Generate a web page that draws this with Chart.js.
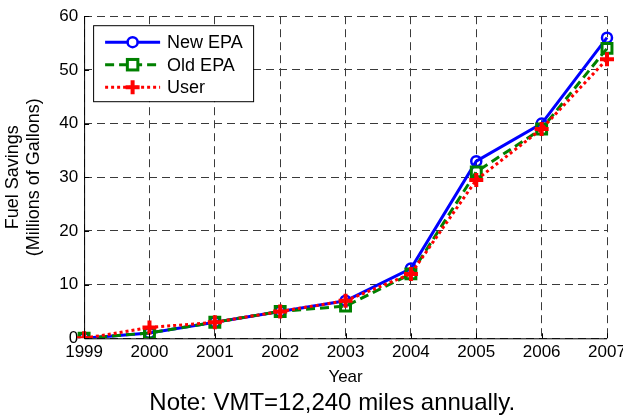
<!DOCTYPE html>
<html>
<head>
<meta charset="utf-8">
<script src="https://cdn.jsdelivr.net/npm/chart.js@4/dist/chart.umd.min.js"></script>
<style>
  html, body { margin: 0; padding: 0; background: #fff; }
  #wrap { width: 623px; height: 417px; }
</style>
</head>
<body>
<div id="wrap"><canvas id="c" width="623" height="417"></canvas></div>
<script>
const years = ['1999', '2000', '2001', '2002', '2003', '2004', '2005', '2006', '2007'];
const newEPA = [0, 1, 3, 5, 7, 13, 33, 40, 56];
const oldEPA = [0, 1, 3, 5, 6, 12, 31, 39, 54];
const userVals = [0, 2, 3, 5, 7, 12, 29.5, 39, 52];
const seriesNames = ['New EPA', 'Old EPA', 'User'];

const FONT = 'Liberation Sans, Arial, sans-serif';

// Solid left/bottom axes with inward ticks, plus a boxed legend with line + marker samples
const framePlugin = {
  id: 'frame',
  afterDatasetsDraw(chart) {
    const { ctx, chartArea: a, scales } = chart;
    ctx.save();
    ctx.strokeStyle = '#000';
    ctx.lineWidth = 1;
    ctx.setLineDash([]);
    ctx.beginPath();
    ctx.moveTo(a.left + 0.5, a.top);
    ctx.lineTo(a.left + 0.5, a.bottom + 0.5);
    ctx.lineTo(a.right, a.bottom + 0.5);
    scales.x.ticks.forEach((t, i) => {
      const x = Math.round(scales.x.getPixelForTick(i)) + 0.5;
      ctx.moveTo(x, a.bottom); ctx.lineTo(x, a.bottom - 5);
    });
    scales.y.ticks.forEach(t => {
      const y = Math.round(scales.y.getPixelForValue(t.value)) + 0.5;
      ctx.moveTo(a.left, y); ctx.lineTo(a.left + 5, y);
    });
    ctx.stroke();
    ctx.restore();
  },
  afterDraw(chart) {
    const { ctx, chartArea: a } = chart;
    const bx = a.left + 9, by = a.top + 9, bw = 160, bh = 76;
    ctx.save();
    ctx.fillStyle = '#fff';
    ctx.fillRect(bx, by, bw, bh);
    ctx.strokeStyle = '#000';
    ctx.lineWidth = 1;
    ctx.strokeRect(bx + 0.5, by + 0.5, bw, bh);
    [0, 1, 2].forEach((di, i) => {
      const ds = chart.data.datasets[di];
      const y = by + 17 + i * 22.5;
      const x0 = bx + 12, x1 = bx + 67, xm = (x0 + x1) / 2;
      ctx.strokeStyle = ds.borderColor;
      ctx.lineWidth = ds.borderWidth;
      ctx.setLineDash(ds.borderDash || []);
      ctx.beginPath(); ctx.moveTo(x0, y); ctx.lineTo(x1, y); ctx.stroke();
      ctx.setLineDash([]);
      ctx.lineWidth = ds.pointBorderWidth;
      ctx.strokeStyle = ds.pointBorderColor;
      if (ds.pointStyle === 'circle') {
        ctx.fillStyle = '#fff';
        ctx.beginPath(); ctx.arc(xm, y, ds.pointRadius, 0, Math.PI * 2); ctx.fill(); ctx.stroke();
      } else if (ds.pointStyle === 'rect') {
        const r = ds.pointRadius * 0.75;
        ctx.fillStyle = '#fff';
        ctx.fillRect(xm - r, y - r, 2 * r, 2 * r);
        ctx.strokeRect(xm - r, y - r, 2 * r, 2 * r);
      } else {
        const r = ds.pointRadius;
        ctx.beginPath();
        ctx.moveTo(xm - r, y); ctx.lineTo(xm + r, y);
        ctx.moveTo(xm, y - r); ctx.lineTo(xm, y + r);
        ctx.stroke();
      }
      ctx.fillStyle = '#000';
      ctx.font = '18px ' + FONT;
      ctx.textBaseline = 'middle';
      ctx.textAlign = 'left';
      ctx.fillText(seriesNames[di], bx + 74, y + 1);
    });
    ctx.restore();
  }
};

new Chart(document.getElementById('c'), {
  type: 'line',
  data: {
    labels: years,
    datasets: [
      {
        label: seriesNames[0], data: newEPA, order: 2,
        borderColor: '#0000ff', borderWidth: 3,
        pointStyle: 'circle', pointRadius: 5, pointBorderWidth: 2.5,
        pointBorderColor: '#0000ff', pointBackgroundColor: 'rgba(0,0,0,0)'
      },
      {
        label: seriesNames[1], data: oldEPA, order: 1,
        borderColor: '#008000', borderWidth: 3, borderDash: [9, 5],
        pointStyle: 'rect', pointRadius: 7, pointBorderWidth: 3,
        pointBorderColor: '#008000', pointBackgroundColor: 'rgba(0,0,0,0)'
      },
      {
        label: seriesNames[2], data: userVals, order: 0,
        borderColor: '#ff0000', borderWidth: 3, borderDash: [3, 3],
        pointStyle: 'cross', pointRadius: 7, pointBorderWidth: 4,
        pointBorderColor: '#ff0000', pointBackgroundColor: '#ff0000'
      }
    ]
  },
  options: {
    responsive: false,
    animation: false,
    layout: { padding: { left: 2, right: 16, top: 8, bottom: 0 } },
    plugins: {
      legend: { display: false },
      tooltip: { enabled: false },
      title: {
        display: true, position: 'bottom', fullSize: false,
        text: 'Note: VMT=12,240 miles annually.    ',
        color: '#000', font: { family: FONT, size: 24, weight: 'normal', lineHeight: 1.15 },
        padding: { top: 2, bottom: 0 }
      }
    },
    scales: {
      x: {
        type: 'category', offset: false,
        afterFit(scale) { scale.paddingRight = 0; },
        grid: { color: '#3a3a3a', lineWidth: 1, drawTicks: false },
        border: { display: false, dash: [8, 5] },
        ticks: { color: '#000', font: { family: FONT, size: 17, lineHeight: 1.1 }, padding: 5, maxRotation: 0, autoSkip: false },
        title: { display: true, text: 'Year', color: '#000', font: { family: FONT, size: 17, lineHeight: 1.2 }, padding: { top: 0, bottom: 0 } }
      },
      y: {
        min: 0, max: 60,
        grid: { color: '#3a3a3a', lineWidth: 1, drawTicks: false },
        border: { display: false, dash: [8, 5] },
        ticks: { stepSize: 10, color: '#000', font: { family: FONT, size: 17 }, padding: 6 },
        title: {
          display: true, text: ['Fuel Savings', '(Millions of Gallons)'],
          color: '#000', font: { family: FONT, size: 18, lineHeight: 1.2 }, padding: { top: 0, bottom: 8 }
        }
      }
    }
  },
  plugins: [framePlugin]
});
</script>
</body>
</html>
